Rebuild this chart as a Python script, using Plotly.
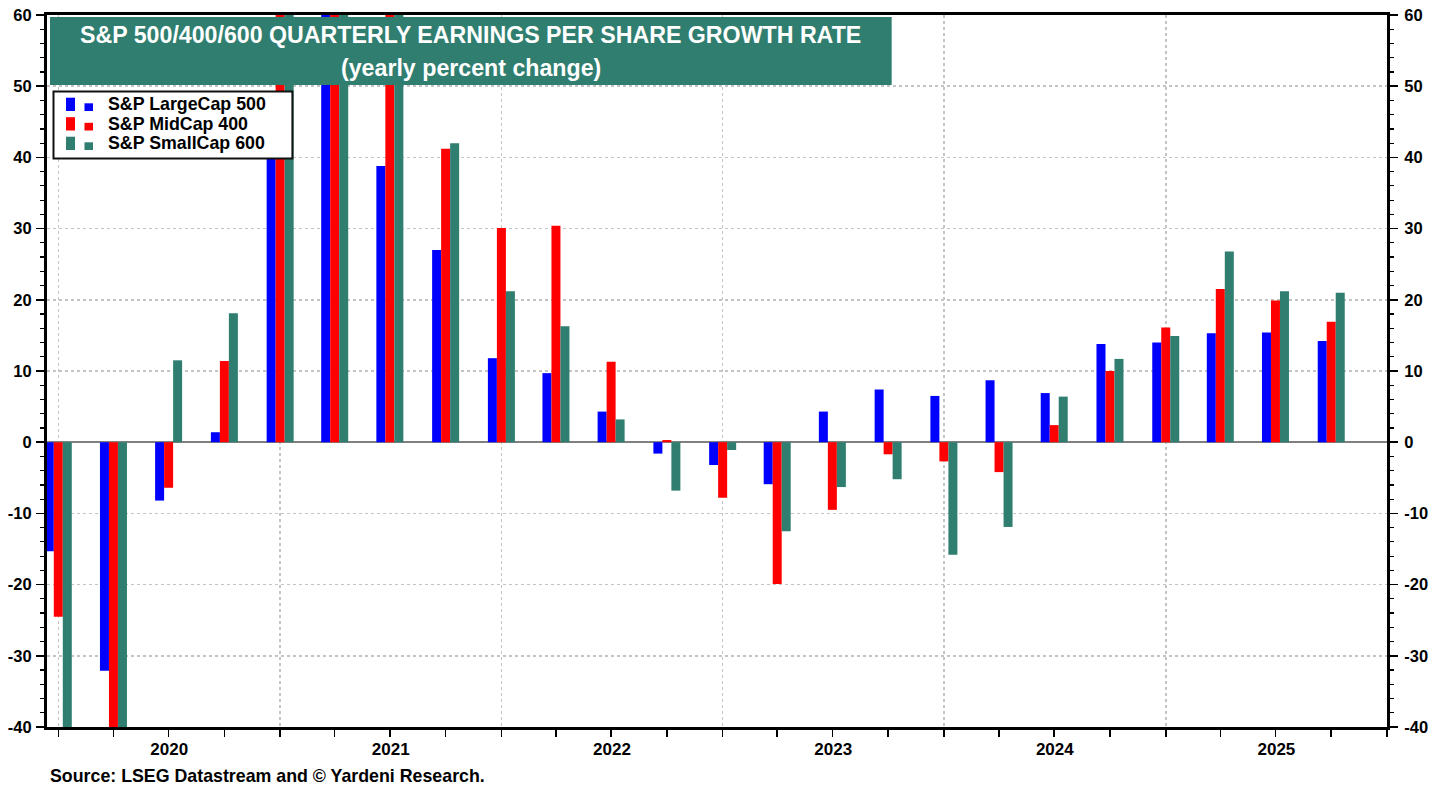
import plotly.graph_objects as go

# ---------------- data ----------------
quarters = ["2020Q1", "2020Q2", "2020Q3", "2020Q4",
            "2021Q1", "2021Q2", "2021Q3", "2021Q4",
            "2022Q1", "2022Q2", "2022Q3", "2022Q4",
            "2023Q1", "2023Q2", "2023Q3", "2023Q4",
            "2024Q1", "2024Q2", "2024Q3", "2024Q4",
            "2025Q1", "2025Q2", "2025Q3", "2025Q4"]

large_500 = [-15.3, -32.1, -8.2, 1.4,
             46.0, 90.0, 38.8, 27.0,
             11.8, 9.7, 4.3, -1.6,
             -3.2, -5.9, 4.3, 7.4,
             6.5, 8.7, 6.9, 13.8,
             14.0, 15.3, 15.4, 14.2]

mid_400 = [-24.5, -55.0, -6.4, 11.4,
           95.0, 190.0, 75.0, 41.2,
           30.1, 30.4, 11.3, 0.3,
           -7.8, -19.9, -9.5, -1.7,
           -2.7, -4.2, 2.4, 10.0,
           16.1, 21.5, 19.9, 16.9]

small_600 = [-48.0, -70.0, 11.5, 18.1,
             110.0, 220.0, 65.0, 42.0,
             21.2, 16.3, 3.2, -6.8,
             -1.1, -12.5, -6.3, -5.2,
             -15.8, -11.9, 6.4, 11.7,
             14.9, 26.8, 21.2, 21.0]

series_names = ["S&P LargeCap 500", "S&P MidCap 400", "S&P SmallCap 600"]
series_colors = ["#0000FF", "#FF0000", "#2F7E70"]

y_tick_values = [-40, -30, -20, -10, 0, 10, 20, 30, 40, 50, 60]
y_tick_labels = ["-40", "-30", "-20", "-10", "0", "10", "20", "30", "40", "50", "60"]

title_line1 = "S&P 500/400/600 QUARTERLY EARNINGS PER SHARE GROWTH RATE"
title_line2 = "(yearly percent change)"
source_text = "Source: LSEG Datastream and \u00a9 Yardeni Research."

# ---------------- helpers ----------------
def q_to_date(q):
    y = int(q[:4])
    n = int(q[-1])
    return f"{y}-{3 * (n - 1) + 1:02d}-01"

x_dates = [q_to_date(q) for q in quarters]

# the page body margin is removed (post_script), so figure = window
W, H = 1446, 790
L, R, T, B = 47, 1387.5, 15, 727
PW, PH = R - L, B - T

def px(xs):
    return (xs - L) / PW

def py(ys):
    return (B - ys) / PH

FONT = "Liberation Sans, Arial, Helvetica, sans-serif"
TEAL = series_colors[2]

fig = go.Figure()
for name, vals, col in zip(series_names, [large_500, mid_400, small_600], series_colors):
    fig.add_trace(go.Bar(x=x_dates, y=vals, name=name,
                         marker=dict(color=col, line=dict(width=0)),
                         showlegend=False))

# invisible trace for right axis
fig.add_trace(go.Scatter(x=[x_dates[0]], y=[0], yaxis="y2", mode="markers",
                         marker=dict(opacity=0), showlegend=False, hoverinfo="skip"))

axis_font = dict(family=FONT, size=17, color="black", weight="bold")
yaxis_font = dict(family=FONT, size=16.5, color="black", weight="bold")

yaxis_common = dict(
    range=[-40, 60], automargin=False,
    tickmode="array", tickvals=y_tick_values, ticktext=y_tick_labels,
    ticks="outside", ticklen=8, tickwidth=1.5, tickcolor="black",
    tickfont=yaxis_font, ticklabeloverflow="allow",
    showline=True, linecolor="black", linewidth=3,
    minor=dict(dtick=2, tick0=0, ticks="outside", ticklen=4, tickwidth=1.2,
               tickcolor="black", showgrid=False),
)

fig.update_layout(
    width=W, height=H, autosize=False,
    margin=dict(l=L, r=W - R, t=T, b=H - B, pad=0, autoexpand=False),
    paper_bgcolor="white", plot_bgcolor="white",
    barmode="group", bargap=0.505, bargroupgap=0,
    font=dict(family=FONT, color="black"),
    xaxis=dict(
        type="date", automargin=False,
        range=["2019-12-13 09:00", "2026-01-01"],
        tick0="2020-01-01", dtick="M12",
        ticklabelmode="period", tickformat="%Y",
        ticks="outside", ticklen=7, tickwidth=1.5, tickcolor="black",
        tickfont=axis_font, ticklabelstandoff=-2,
        showgrid=True, gridcolor="#c4c4c4", griddash="dot", gridwidth=1.5,
        showline=True, linecolor="black", linewidth=3, mirror=True,
        minor=dict(dtick="M3", tick0="2020-01-01", ticks="outside", ticklen=7,
                   tickwidth=1.5, tickcolor="black", showgrid=False),
        zeroline=False,
    ),
    yaxis=dict(
        **yaxis_common,
        ticklabelstandoff=1,
        showgrid=True, gridcolor="#c4c4c4", griddash="dot", gridwidth=1.5,
        zeroline=True, zerolinecolor="#808080", zerolinewidth=1.5,
    ),
    yaxis2=dict(
        **yaxis_common,
        overlaying="y", side="right", anchor="x",
        ticklabelstandoff=3,
        showgrid=False, zeroline=False,
    ),
)

shapes = []
annotations = []

# title box
shapes.append(dict(type="rect", xref="paper", yref="paper", layer="above",
                   x0=px(50), x1=px(892), y0=py(85), y1=py(17),
                   fillcolor=TEAL, line=dict(width=0)))
annotations.append(dict(xref="paper", yref="paper", x=px(471), y=py(35),
                        xanchor="center", yanchor="middle", showarrow=False,
                        text=title_line1,
                        font=dict(family=FONT, size=23.2, color="white", weight="bold")))
annotations.append(dict(xref="paper", yref="paper", x=px(471), y=py(68),
                        xanchor="center", yanchor="middle", showarrow=False,
                        text=title_line2,
                        font=dict(family=FONT, size=23.2, color="white", weight="bold")))

# legend box
shapes.append(dict(type="rect", xref="paper", yref="paper", layer="above",
                   x0=px(53.5), x1=px(292.5), y0=py(158.5), y1=py(91.5),
                   fillcolor="white", line=dict(color="#111111", width=2)))
row_bottoms = [111, 130.5, 150]
row_centers = [104.3, 123.8, 143.3]
for name, col, yb, yc in zip(series_names, series_colors, row_bottoms, row_centers):
    shapes.append(dict(type="rect", xref="paper", yref="paper", layer="above",
                       x0=px(66), x1=px(75), y0=py(yb), y1=py(yb - 13.3),
                       fillcolor=col, line=dict(width=0)))
    shapes.append(dict(type="rect", xref="paper", yref="paper", layer="above",
                       x0=px(84.5), x1=px(93), y0=py(yb), y1=py(yb - 7.7),
                       fillcolor=col, line=dict(width=0)))
    annotations.append(dict(xref="paper", yref="paper", x=px(106), y=py(yc),
                            xanchor="left", yanchor="middle", showarrow=False,
                            text=name,
                            font=dict(family=FONT, size=17.8, color="black", weight="bold")))

# source
annotations.append(dict(xref="paper", yref="paper", x=px(48), y=py(776),
                        xanchor="left", yanchor="middle", showarrow=False,
                        text=source_text,
                        font=dict(family=FONT, size=17.8, color="black", weight="bold")))

fig.update_layout(shapes=shapes, annotations=annotations)

fig.write_html("out.html",
               config={"displayModeBar": False, "staticPlot": True},
               post_script="document.body.style.margin='0px';document.body.style.overflow='hidden';")
